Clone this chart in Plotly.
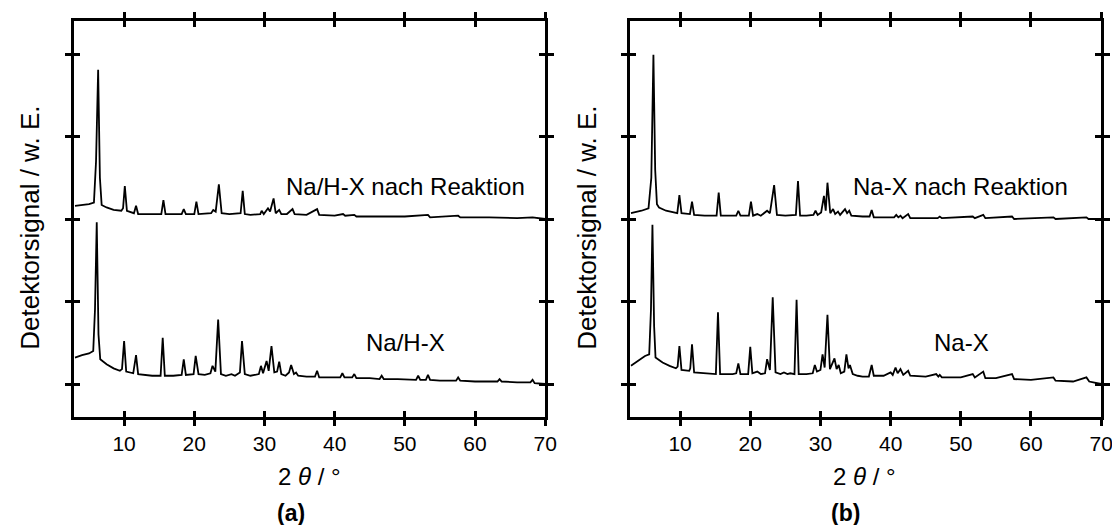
import plotly.graph_objects as go

# ---------------- data (2theta, signal) ----------------
NAHX = [(3,0.32),(4,0.35),(5,0.37),(5.6,0.40),(5.85,0.9),(6.1,1.96),(6.35,0.6),(6.6,0.30),(7.5,0.24),(8.5,0.19),
        (9.4,0.16),(9.7,0.18),(10.0,0.52),(10.3,0.15),(11.3,0.13),(11.7,0.35),(12.0,0.12),(13,0.11),(14,0.10),
        (15.2,0.10),(15.5,0.56),(15.8,0.10),(17,0.10),(18.2,0.11),(18.5,0.30),(18.8,0.11),(19.9,0.12),(20.2,0.34),
        (20.6,0.12),(21.5,0.11),(22.3,0.13),(22.6,0.22),(23.0,0.15),(23.4,0.78),(23.8,0.12),(24.5,0.10),(25.3,0.12),
        (25.8,0.10),(26.5,0.14),(26.8,0.52),(27.2,0.12),(28,0.10),(29.2,0.12),(29.5,0.22),(29.8,0.13),(30.3,0.28),
        (30.6,0.16),(31.0,0.46),(31.4,0.14),(31.8,0.15),(32.1,0.27),(32.4,0.12),(33.0,0.10),(33.5,0.14),(33.8,0.23),
        (34.2,0.12),(34.5,0.14),(34.8,0.10),(36,0.09),(37.2,0.09),(37.5,0.16),(37.8,0.08),(39,0.08),(40.8,0.08),
        (41.1,0.13),(41.4,0.08),(42.5,0.08),(42.8,0.12),(43.1,0.07),(45,0.07),(46.4,0.06),(46.7,0.10),(47.0,0.06),
        (49,0.06),(51.6,0.05),(51.9,0.10),(52.2,0.05),(53.0,0.05),(53.3,0.11),(53.6,0.05),(55,0.04),(57.3,0.04),
        (57.6,0.08),(57.9,0.04),(60,0.03),(63.2,0.03),(63.5,0.06),(63.8,0.03),(66,0.02),(67.9,0.02),(68.2,0.05),
        (68.5,0.01),(70,0.0)]

NAHX_NACH = [(3,2.16),(4,2.17),(5,2.18),(5.7,2.2),(6.0,2.7),(6.3,3.81),(6.55,2.5),(6.8,2.17),(7.5,2.14),(8.5,2.11),
             (9.6,2.10),(9.85,2.13),(10.1,2.40),(10.4,2.10),(11.4,2.07),(11.7,2.16),(12.0,2.06),(13.5,2.06),(15.3,2.06),
             (15.6,2.23),(15.9,2.06),(18.2,2.06),(18.5,2.12),(18.8,2.06),(20.0,2.06),(20.3,2.21),(20.6,2.06),(22.4,2.07),
             (22.7,2.11),(23.05,2.09),(23.5,2.42),(23.9,2.07),(25,2.06),(26.6,2.07),(26.9,2.34),(27.2,2.06),(28,2.05),
             (29.4,2.06),(29.6,2.10),(29.9,2.06),(30.5,2.13),(30.8,2.09),(31.3,2.25),(31.6,2.07),(32.1,2.11),(32.4,2.06),
             (33.2,2.06),(34.0,2.12),(34.3,2.06),(36,2.05),(37.5,2.12),(37.8,2.05),(40,2.04),(41.2,2.06),(41.5,2.04),
             (42.8,2.05),(43.1,2.03),(47,2.03),(50,2.03),(53.3,2.05),(53.6,2.02),(57.6,2.04),(57.9,2.02),(62,2.02),
             (66,2.01),(68.2,2.02),(70,2.0)]

NAX = [(3,0.22),(4,0.28),(5,0.34),(5.6,0.36),(5.85,0.9),(6.06,1.93),(6.3,0.7),(6.5,0.32),(7.5,0.26),(8.5,0.22),
       (9.4,0.19),(9.65,0.21),(9.9,0.46),(10.2,0.17),(11.3,0.16),(11.45,0.19),(11.7,0.48),(12.0,0.14),(13.5,0.13),
       (15.1,0.12),(15.4,0.87),(15.7,0.12),(17.5,0.12),(18.0,0.13),(18.3,0.25),(18.6,0.12),(19.7,0.12),(20.0,0.45),
       (20.3,0.13),(21.0,0.15),(21.5,0.12),(22.1,0.13),(22.4,0.30),(22.8,0.17),(23.2,1.05),(23.6,0.14),(24.3,0.12),
       (24.8,0.14),(25.3,0.12),(25.7,0.13),(26.3,0.12),(26.6,1.02),(26.9,0.12),(28.0,0.12),(28.9,0.13),(29.2,0.23),
       (29.5,0.15),(30.0,0.17),(30.3,0.36),(30.6,0.20),(31.0,0.84),(31.35,0.18),(32.0,0.31),(32.3,0.18),(32.6,0.23),
       (32.9,0.13),(33.4,0.15),(33.7,0.36),(34.0,0.19),(34.2,0.23),(34.6,0.12),(35.3,0.10),(36.0,0.09),(36.9,0.09),
       (37.3,0.23),(37.6,0.10),(39,0.10),(40.0,0.14),(40.3,0.11),(40.7,0.20),(41.0,0.13),(41.4,0.18),(41.8,0.11),
       (42.5,0.16),(42.8,0.10),(45,0.09),(46.5,0.12),(46.8,0.09),(47.0,0.11),(47.3,0.08),(50,0.08),(51.7,0.12),
       (52.0,0.08),(53.2,0.15),(53.5,0.07),(55,0.07),(57.3,0.12),(57.6,0.06),(60,0.05),(63.2,0.08),(63.5,0.04),
       (66,0.03),(67.9,0.08),(68.3,0.03),(70,0.0)]

NAX_NACH = [(3,2.07),(4.5,2.10),(5.5,2.13),(5.9,2.5),(6.2,3.99),(6.45,2.6),(6.7,2.18),(7.0,2.14),(8.0,2.10),(9.0,2.08),
            (9.6,2.07),(9.9,2.29),(10.2,2.07),(11.4,2.06),(11.7,2.21),(12.0,2.05),(13.5,2.04),(15.2,2.04),(15.5,2.32),
            (15.8,2.04),(18.0,2.04),(18.3,2.10),(18.6,2.04),(19.8,2.04),(20.1,2.21),(20.4,2.04),(21.0,2.06),(21.5,2.04),
            (22.4,2.10),(22.8,2.07),(23.4,2.41),(23.8,2.05),(25.0,2.04),(26.5,2.05),(26.8,2.46),(27.1,2.04),(28.0,2.04),
            (29.0,2.05),(29.3,2.10),(29.6,2.05),(30.1,2.08),(30.5,2.28),(30.75,2.10),(31.0,2.44),(31.4,2.07),(31.8,2.12),
            (32.1,2.06),(32.5,2.09),(32.8,2.05),(33.5,2.12),(33.8,2.07),(34.1,2.10),(34.4,2.04),(36.0,2.03),(37.0,2.03),
            (37.3,2.11),(37.6,2.02),(40.5,2.02),(40.8,2.05),(41.1,2.02),(41.4,2.04),(41.7,2.01),(42.5,2.06),(42.8,2.01),
            (46.7,2.01),(47.0,2.03),(47.3,2.01),(51.7,2.03),(52.0,2.01),(53.2,2.05),(53.5,2.01),(57.3,2.03),(57.6,2.0),
            (63.2,2.02),(63.5,2.0),(67.9,2.02),(68.2,2.0),(70,2.0)]

X_TICKS = [10, 20, 30, 40, 50, 60, 70]
Y_TICKS = [0, 1, 2, 3, 4]
X_RANGE = [2.9, 70]
Y_RANGE = [-0.4, 4.4]

LABELS_A = ["Na/H-X nach Reaktion", "Na/H-X"]
LABELS_B = ["Na-X nach Reaktion", "Na-X"]
Y_TITLE = "Detektorsignal / w. E."
X_TITLE = "2 <i>θ</i> / °"
PANELS = ["<b>(a)</b>", "<b>(b)</b>"]

W, H = 1120, 525
FONT = "Liberation Sans, Arial, Helvetica, sans-serif"

fig = go.Figure()

def add_curve(pairs, xa, ya):
    xs, ys = zip(*pairs)
    fig.add_trace(go.Scatter(x=list(xs), y=list(ys), mode="lines",
                             line=dict(color="black", width=1.8),
                             xaxis=xa, yaxis=ya, showlegend=False, hoverinfo="skip"))

add_curve(NAHX, "x", "y")
add_curve(NAHX_NACH, "x", "y")
add_curve(NAX, "x2", "y2")
add_curve(NAX_NACH, "x2", "y2")
# empty traces to activate the overlay axes that carry the inner half of the ticks
for xa, ya in [("x3", "y3"), ("x4", "y4")]:
    fig.add_trace(go.Scatter(x=[None], y=[None], mode="lines", xaxis=xa, yaxis=ya,
                             showlegend=False, hoverinfo="skip"))

dom_a = [67 / W, 543 / W]
dom_b = [629 / W, 1105 / W]
dom_y = [(H - 409) / H, (H - 13) / H]

common_x = dict(range=X_RANGE, tickvals=X_TICKS, ticklen=6, tickwidth=2.5, tickcolor="black",
                showgrid=False, zeroline=False, fixedrange=True)
common_y = dict(range=Y_RANGE, tickvals=Y_TICKS, ticklen=6, tickwidth=2.5, tickcolor="black",
                showgrid=False, zeroline=False, fixedrange=True, showticklabels=False)

fig.update_layout(
    width=W, height=H, margin=dict(l=0, r=0, t=0, b=0),
    paper_bgcolor="white", plot_bgcolor="white",
    font=dict(family=FONT, color="black", size=21),
    xaxis=dict(domain=dom_a, anchor="y", ticks="outside", mirror="ticks", showline=True,
               linecolor="black", linewidth=3, tickfont=dict(size=21), **common_x),
    yaxis=dict(domain=dom_y, anchor="x", ticks="outside", mirror="ticks", showline=True,
               linecolor="black", linewidth=3, **common_y),
    xaxis2=dict(domain=dom_b, anchor="y2", ticks="outside", mirror="ticks", showline=True,
                linecolor="black", linewidth=3, tickfont=dict(size=21), **common_x),
    yaxis2=dict(domain=dom_y, anchor="x2", ticks="outside", mirror="ticks", showline=True,
                linecolor="black", linewidth=3, **common_y),
    xaxis3=dict(overlaying="x", anchor="y3", ticks="inside", mirror="ticks", showline=False,
                showticklabels=False, **common_x),
    yaxis3=dict(overlaying="y", anchor="x3", ticks="inside", mirror="ticks", showline=False, **common_y),
    xaxis4=dict(overlaying="x2", anchor="y4", ticks="inside", mirror="ticks", showline=False,
                showticklabels=False, **common_x),
    yaxis4=dict(overlaying="y2", anchor="x4", ticks="inside", mirror="ticks", showline=False, **common_y),
)

def ann(text, px, py, size=24, angle=0):
    fig.add_annotation(text=text, x=px / W, y=1 - py / H, xref="paper", yref="paper",
                       showarrow=False, font=dict(size=size, family=FONT, color="black"),
                       textangle=angle, xanchor="center", yanchor="middle", borderpad=0)

ann(LABELS_A[0], 402, 179)
ann(LABELS_A[1], 402, 334)
ann(LABELS_B[0], 963, 179)
ann(LABELS_B[1], 964, 334)
ann(Y_TITLE, 22, 220, size=26, angle=-90)
ann(Y_TITLE, 585, 220, size=26, angle=-90)
ann(X_TITLE, 305, 468)
ann(X_TITLE, 866, 468)
ann(PANELS[0], 286, 505, size=23)
ann(PANELS[1], 847, 505, size=23)

fig.write_html("out.html")
